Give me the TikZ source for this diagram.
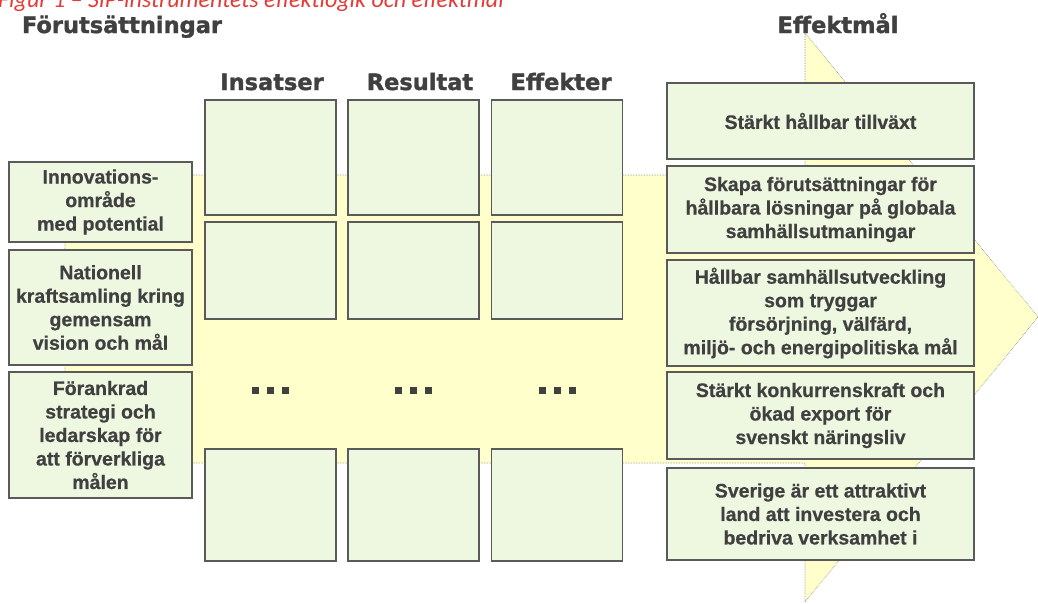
\documentclass[tikz,border=0pt]{standalone}
\usepackage{fontspec}
\setmainfont{Liberation Sans}[BoldFeatures={FakeBold=0.6}]
\newfontfamily\headfont{DejaVu Sans}[BoldFeatures={FakeBold=1.6}]
\newfontfamily\capfont{Carlito}
\definecolor{boxfill}{RGB}{238,247,224}
\definecolor{boxline}{RGB}{90,90,90}
\definecolor{arrowfill}{RGB}{255,255,204}
\definecolor{txt}{RGB}{64,64,64}
\definecolor{capred}{RGB}{226,60,56}
\tikzset{
  box/.style={draw=boxline, line width=1.3pt, fill=boxfill, inner sep=2pt,
    align=center, text=txt, font=\bfseries\fontsize{19.5}{23.5}\selectfont},
  head/.style={anchor=base, text=txt, inner sep=0pt, font=\headfont\bfseries\fontsize{22.5}{26}\selectfont},
  dots/.style={inner sep=0pt, text=txt},
  bigarrow/.style={fill=arrowfill, draw=gray, densely dotted, line width=0.6pt}
}
\newcommand{\sq}{\rule{7pt}{7pt}}
\begin{document}
\begin{tikzpicture}[x=1pt,y=-1pt]
\useasboundingbox (0,0) rectangle (1038,603);
% caption (cut off at top)
\node[anchor=base west, inner sep=0pt, text=capred, font=\capfont\itshape\fontsize{24}{28}\selectfont] (cap) at (-2,7) {Figur 1 – SIP-instrumentets effektlogik och effektmål};
% big arrow
\draw[bigarrow] (65,175) -- (805,175) -- (805,33) -- (1038,317) -- (805,602) -- (805,463) -- (65,463) -- cycle;
% headers
\node[head] (hF) at (122,33) {Förutsättningar};
\node[head] (hI) at (272,90) {Insatser};
\node[head] (hR) at (420,90) {Resultat};
\node[head] (hE) at (561,90) {Effekter};
\node[head] (hM) at (838,33) {Effektmål};
% left boxes
\node[box, minimum width=183pt, minimum height=80pt] (L1) at (100.5,202) {Innovations-\\område\\med potential};
\node[box, minimum width=183pt, minimum height=115pt] (L2) at (100.5,307.5) {Nationell\\kraftsamling kring\\gemensam\\vision och mål};
\node[box, minimum width=183pt, minimum height=126pt] (L3) at (100.5,435) {Förankrad\\strategi och\\ledarskap för\\att förverkliga\\målen};
% columns
\foreach \c/\x in {I/270.5, R/413.5, E/557}{
  \node[box, minimum width=131pt, minimum height=115pt] (\c1) at (\x,157.5) {};
  \node[box, minimum width=131pt, minimum height=97pt] (\c2) at (\x,270.5) {};
  \node[dots] (\c3) at (\x,390) {\sq\hspace{8pt}\sq\hspace{8pt}\sq};
  \node[box, minimum width=131pt, minimum height=112pt] (\c4) at (\x,505) {};
}
% right boxes
\node[box, minimum width=307pt, minimum height=76pt] (M1) at (820.5,121) {Stärkt hållbar tillväxt};
\node[box, minimum width=307pt, minimum height=87pt] (M2) at (820.5,209.5) {Skapa förutsättningar för\\hållbara lösningar på globala\\samhällsutmaningar};
\node[box, minimum width=307pt, minimum height=106pt] (M3) at (820.5,313) {Hållbar samhällsutveckling\\som tryggar\\försörjning, välfärd,\\miljö- och energipolitiska mål};
\node[box, minimum width=307pt, minimum height=87pt] (M4) at (820.5,415.5) {Stärkt konkurrenskraft och\\ökad export för\\svenskt näringsliv};
\node[box, minimum width=307pt, minimum height=92pt] (M5) at (820.5,514) {Sverige är ett attraktivt\\land att investera och\\bedriva verksamhet i};
\end{tikzpicture}
\end{document}
